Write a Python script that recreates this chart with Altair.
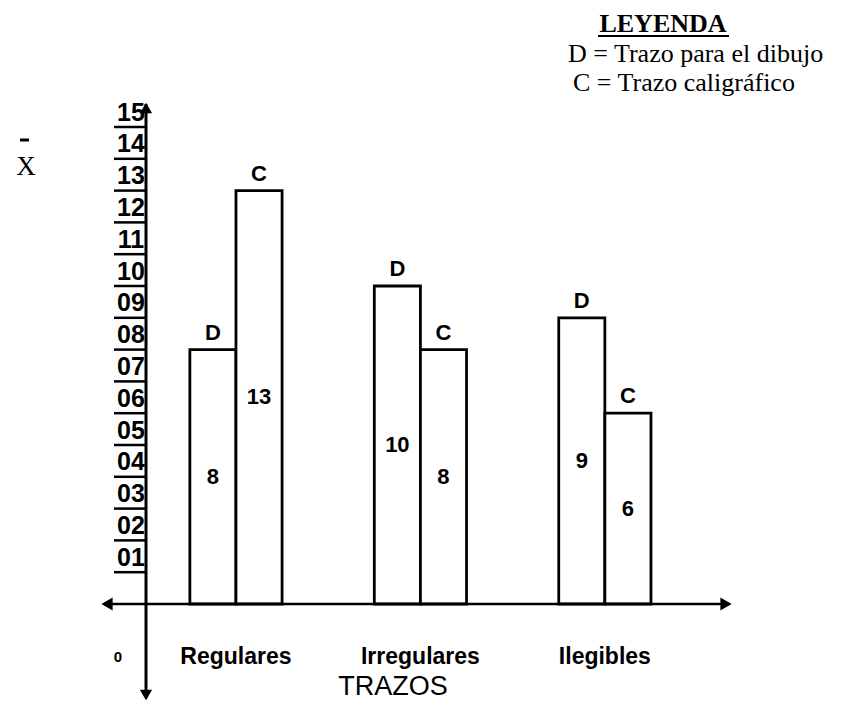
import altair as alt
import pandas as pd

# ---- data ----
categorias = ["Regulares", "Irregulares", "Ilegibles"]
trazos = ["D", "C"]
valores_D = [8, 10, 9]
valores_C = [13, 8, 6]
etiquetas_y = ["01", "02", "03", "04", "05", "06", "07", "08",
               "09", "10", "11", "12", "13", "14", "15"]

rows = []
for i, cat in enumerate(categorias):
    rows.append({"categoria": cat, "trazo": "D", "valor": valores_D[i]})
    rows.append({"categoria": cat, "trazo": "C", "valor": valores_C[i]})
df = pd.DataFrame(rows)
cat_df = pd.DataFrame({"categoria": categorias})
ticks_df = pd.DataFrame({"label": etiquetas_y, "pos": list(range(1, len(etiquetas_y) + 1))})
one = pd.DataFrame({"z": [0]})

W, H = 830, 695
BASE = 596.0   # pixel row of value 0 inside the chart
UNIT = 31.8    # pixels per unit
yscale = alt.Scale(domain=[(BASE - H) / UNIT, BASE / UNIT], nice=False, zero=False)
xscale = alt.Scale(paddingInner=0.5, paddingOuter=1, align=0.493)

X = alt.X("categoria:N", sort=categorias, scale=xscale, axis=None)
XO = alt.XOffset("trazo:N", sort=trazos)
Yv = alt.Y("valor:Q", scale=yscale, axis=None)

base = alt.Chart(df)

bars = base.mark_bar(fill="white", stroke="black", strokeWidth=2.8).encode(
    x=X, xOffset=XO, y=Yv, y2=alt.datum(0),
)

top_labels = base.mark_text(dy=-17, fontSize=22, fontWeight="bold",
                            font="Liberation Sans", baseline="middle").encode(
    x=X, xOffset=XO, y=alt.Y("valor:Q", axis=None), text="trazo:N"
)

inner_labels = base.transform_calculate(mid="datum.valor / 2").mark_text(
    fontSize=22, fontWeight="bold", font="Liberation Sans", baseline="middle"
).encode(
    x=X, xOffset=XO, y=alt.Y("mid:Q", axis=None), text="valor:Q"
)

cat_labels = alt.Chart(cat_df).mark_text(
    fontSize=23, fontWeight="bold", font="Liberation Sans Narrow, Liberation Sans, sans-serif",
    baseline="middle"
).encode(x=alt.X("categoria:N", sort=categorias, axis=None), y=alt.value(649), text="categoria:N")

# y axis tick labels (underlined) and ticks
tick_text = alt.Chart(ticks_df).transform_calculate(ly="datum.pos + 0.45").mark_text(
    fontSize=25, fontWeight="bold", font="Liberation Sans Narrow, Liberation Sans, sans-serif",
    baseline="middle", align="center"
).encode(x=alt.value(123), y=alt.Y("ly:Q", axis=None), text="label:N")

tick_rules = alt.Chart(ticks_df).mark_rule(color="black", strokeWidth=2.5).encode(
    y=alt.Y("pos:Q", axis=None), x=alt.value(106), x2=alt.value(138)
)

# axes with arrows
x_axis = alt.Chart(one).mark_rule(color="black", strokeWidth=2.5).encode(
    y=alt.Y("z:Q", axis=None), x=alt.value(96), x2=alt.value(716)
)
y_axis = alt.Chart(one).mark_rule(color="black", strokeWidth=3).encode(
    x=alt.value(138), y=alt.value(96), y2=alt.value(690)
)
arrow_l = alt.Chart(one).mark_point(shape="triangle-left", filled=True, color="black",
                                    size=170, opacity=1).encode(
    x=alt.value(99), y=alt.Y("z:Q", axis=None))
arrow_r = alt.Chart(one).mark_point(shape="triangle-right", filled=True, color="black",
                                    size=170, opacity=1).encode(
    x=alt.value(718), y=alt.Y("z:Q", axis=None))
arrow_u = alt.Chart(one).mark_point(shape="triangle-up", filled=True, color="black",
                                    size=150, opacity=1).encode(
    x=alt.value(138), y=alt.value(100))
arrow_d = alt.Chart(one).mark_point(shape="triangle-down", filled=True, color="black",
                                    size=150, opacity=1).encode(
    x=alt.value(138), y=alt.value(687))

origin = alt.Chart(one).mark_text(text="0", fontSize=15, fontWeight="bold",
                                  font="Liberation Sans", baseline="middle").encode(
    x=alt.value(110), y=alt.value(649))

x_title = alt.Chart(one).mark_text(text="TRAZOS", fontSize=27, font="Liberation Sans",
                                   baseline="middle").encode(
    x=alt.value(385), y=alt.value(679))

xbar_x = alt.Chart(one).mark_text(text="X", fontSize=27, font="Liberation Serif",
                                  baseline="middle").encode(
    x=alt.value(18), y=alt.value(159))
xbar_bar = alt.Chart(one).mark_rule(color="black", strokeWidth=3).encode(
    x=alt.value(12), x2=alt.value(21), y=alt.value(132))

leg_title = alt.Chart(one).mark_text(text="LEYENDA", fontSize=26, fontWeight="bold",
                                     font="Liberation Serif", baseline="middle").encode(
    x=alt.value(655), y=alt.value(16))
leg_under = alt.Chart(one).mark_rule(color="black", strokeWidth=2).encode(
    x=alt.value(590), x2=alt.value(721), y=alt.value(28))
leg_d = alt.Chart(one).mark_text(text="D = Trazo para el dibujo", fontSize=26,
                                 font="Liberation Serif", align="left",
                                 baseline="middle").encode(
    x=alt.value(560), y=alt.value(46))
leg_c = alt.Chart(one).mark_text(text="C = Trazo caligráfico", fontSize=26,
                                 font="Liberation Serif", align="left",
                                 baseline="middle").encode(
    x=alt.value(565), y=alt.value(75))

chart = alt.layer(
    bars, x_axis, y_axis, tick_rules, tick_text, top_labels, inner_labels, cat_labels,
    arrow_l, arrow_r, arrow_u, arrow_d, origin, x_title, xbar_x, xbar_bar,
    leg_title, leg_under, leg_d, leg_c
).properties(
    width=W, height=H, padding=0,
    autosize=alt.AutoSizeParams(type="none"),
    background="white",
).configure_view(stroke=None)

chart.save("out.html", embed_options={"renderer": "svg", "actions": False})
